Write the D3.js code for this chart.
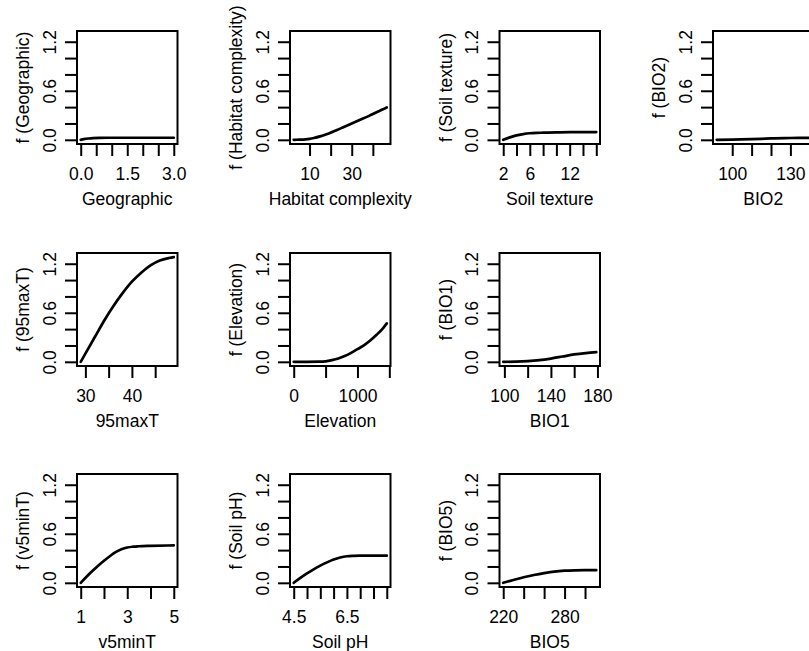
<!DOCTYPE html>
<html>
<head>
<meta charset="utf-8">
<script src="https://cdn.jsdelivr.net/npm/d3@7"></script>
<style>
  html, body { margin: 0; padding: 0; background: #fff; }
  svg { display: block; }
  text { font-family: "Liberation Sans", Arial, Helvetica, sans-serif; fill: #000; }
</style>
</head>
<body>
<svg id="chart" width="809" height="651"></svg>
<script>
// ---- data ----
const yTicks = [0, 0.2, 0.4, 0.6, 0.8, 1.0, 1.2];
const yTickLabels = [0, 0.6, 1.2];
const yLimit = [0, 1.28];

const geoX = [0, 0.1, 0.25, 0.4, 0.6, 0.9, 1.5, 2.0, 2.5, 3.0];
const geoY = [0, 0.008, 0.016, 0.021, 0.024, 0.025, 0.025, 0.025, 0.025, 0.025];
const geoTicks = [0, 0.5, 1.0, 1.5, 2.0, 2.5, 3.0];
const geoLabels = [0, 1.5, 3.0];

const habX = [2.5, 5, 8, 10, 12, 15, 18, 20, 23, 26, 30, 34, 38, 42, 46.6];
const habY = [0, 0.002, 0.006, 0.012, 0.022, 0.042, 0.068, 0.088, 0.12, 0.155, 0.2, 0.245, 0.29, 0.34, 0.395];
const habTicks = [10, 20, 30, 40];
const habLabels = [10, 30];

const soilTexX = [2, 3, 4, 5, 6, 7, 8, 10, 12, 14, 16];
const soilTexY = [0, 0.03, 0.055, 0.07, 0.08, 0.085, 0.087, 0.09, 0.093, 0.094, 0.095];
const soilTexTicks = [2, 4, 6, 8, 10, 12, 14, 16];
const soilTexLabels = [2, 6, 12];

const bio2X = [92, 100, 110, 115, 120, 130, 140];
const bio2Y = [0, 0.003, 0.008, 0.012, 0.018, 0.022, 0.025];
const bio2Ticks = [100, 110, 120, 130, 140];
const bio2Labels = [100, 130];

const maxTX = [29, 30, 32, 34, 36, 38, 40, 42, 44, 46, 48, 49];
const maxTY = [0, 0.1, 0.3, 0.5, 0.68, 0.84, 0.98, 1.09, 1.18, 1.24, 1.27, 1.28];
const maxTTicks = [30, 35, 40, 45];
const maxTLabels = [30, 40];

const elevX = [0, 200, 400, 500, 600, 700, 800, 900, 1000, 1100, 1200, 1300, 1400, 1460];
const elevY = [0, 0, 0.002, 0.006, 0.02, 0.04, 0.07, 0.11, 0.155, 0.2, 0.26, 0.33, 0.41, 0.47];
const elevTicks = [0, 500, 1000, 1500];
const elevLabels = [0, 1000];

const bio1X = [99, 110, 120, 130, 140, 150, 160, 170, 179];
const bio1Y = [0, 0.002, 0.008, 0.02, 0.04, 0.065, 0.09, 0.107, 0.118];
const bio1Ticks = [100, 120, 140, 160, 180];
const bio1Labels = [100, 140, 180];

const minTX = [1, 1.25, 1.5, 1.75, 2, 2.25, 2.5, 2.75, 3, 3.25, 3.5, 4, 5];
const minTY = [0, 0.075, 0.145, 0.21, 0.27, 0.325, 0.375, 0.41, 0.432, 0.442, 0.447, 0.452, 0.458];
const minTTicks = [1, 2, 3, 4, 5];
const minTLabels = [1, 3, 5];

const phX = [4.5, 4.75, 5, 5.25, 5.5, 5.75, 6, 6.25, 6.5, 6.75, 7, 8];
const phY = [0, 0.06, 0.115, 0.165, 0.21, 0.25, 0.285, 0.31, 0.325, 0.33, 0.332, 0.332];
const phTicks = [4.5, 5, 5.5, 6, 6.5, 7, 7.5, 8];
const phLabels = [4.5, 6.5];

const bio5X = [220, 230, 240, 250, 260, 270, 280, 290, 300, 311];
const bio5Y = [0, 0.035, 0.068, 0.095, 0.118, 0.137, 0.148, 0.153, 0.155, 0.155];
const bio5Ticks = [220, 240, 260, 280, 300];
const bio5Labels = [220, 280];

const panelNames = ["Geographic", "Habitat complexity", "Soil texture", "BIO2",
                    "95maxT", "Elevation", "BIO1", "v5minT", "Soil pH", "BIO5"];

// ---- layout ----
const colLeft = [77, 290, 499.5, 713];
const rowTop = [31, 253, 474];
const boxW = 100.5, boxH = 113;

const panels = [
  {name: panelNames[0], x: geoX, y: geoY, ticks: geoTicks, labels: geoLabels, fmt: d3.format(".1f"), r: 0, c: 0},
  {name: panelNames[1], x: habX, y: habY, ticks: habTicks, labels: habLabels, fmt: d3.format("d"), r: 0, c: 1},
  {name: panelNames[2], x: soilTexX, y: soilTexY, ticks: soilTexTicks, labels: soilTexLabels, fmt: d3.format("d"), r: 0, c: 2},
  {name: panelNames[3], x: bio2X, y: bio2Y, ticks: bio2Ticks, labels: bio2Labels, fmt: d3.format("d"), r: 0, c: 3},
  {name: panelNames[4], x: maxTX, y: maxTY, ticks: maxTTicks, labels: maxTLabels, fmt: d3.format("d"), r: 1, c: 0},
  {name: panelNames[5], x: elevX, y: elevY, ticks: elevTicks, labels: elevLabels, fmt: d3.format("d"), r: 1, c: 1},
  {name: panelNames[6], x: bio1X, y: bio1Y, ticks: bio1Ticks, labels: bio1Labels, fmt: d3.format("d"), r: 1, c: 2},
  {name: panelNames[7], x: minTX, y: minTY, ticks: minTTicks, labels: minTLabels, fmt: d3.format("d"), r: 2, c: 0},
  {name: panelNames[8], x: phX, y: phY, ticks: phTicks, labels: phLabels, fmt: d3.format(".1f"), r: 2, c: 1},
  {name: panelNames[9], x: bio5X, y: bio5Y, ticks: bio5Ticks, labels: bio5Labels, fmt: d3.format("d"), r: 2, c: 2}
];

const svg = d3.select("#chart");
const FS = "17.5px";

function pad(ext) {
  const p = (ext[1] - ext[0]) * 0.04;
  return [ext[0] - p, ext[1] + p];
}

panels.forEach(p => {
  const left = colLeft[p.c], top = rowTop[p.r];
  const x = d3.scaleLinear().domain(pad(d3.extent(p.x))).range([left, left + boxW]);
  const y = d3.scaleLinear().domain(pad(yLimit)).range([top + boxH, top]);
  const g = svg.append("g");

  // x axis
  const xa = g.append("g").attr("transform", `translate(0,${top + boxH})`)
    .call(d3.axisBottom(x).tickValues(p.ticks).tickSize(12).tickSizeOuter(0)
      .tickFormat(d => p.labels.some(v => Math.abs(v - d) < 1e-9) ? p.fmt(d) : ""));
  xa.select(".domain").remove();
  xa.attr("font-family", null).attr("font-size", null);
  xa.selectAll(".tick line").attr("stroke", "#000").attr("stroke-width", 2);
  xa.selectAll(".tick text").attr("y", 36).attr("dy", null)
    .style("font-size", FS).attr("fill", "#000");

  // y axis
  const ya = g.append("g").attr("transform", `translate(${left},0)`)
    .call(d3.axisLeft(y).tickValues(yTicks).tickSize(12).tickSizeOuter(0)
      .tickFormat(d => yTickLabels.some(v => Math.abs(v - d) < 1e-9) ? d3.format(".1f")(d) : ""));
  ya.select(".domain").remove();
  ya.attr("font-family", null).attr("font-size", null);
  ya.selectAll(".tick line").attr("stroke", "#000").attr("stroke-width", 2);
  ya.selectAll(".tick text").attr("x", null).attr("dy", null)
    .attr("text-anchor", "middle")
    .attr("transform", "translate(-21.5,0) rotate(-90)")
    .style("font-size", FS).attr("fill", "#000");

  // curve
  const pts = p.x.map((v, i) => [v, p.y[i]]);
  g.append("path").datum(pts)
    .attr("d", d3.line().x(d => x(d[0])).y(d => y(d[1])).curve(d3.curveMonotoneX))
    .attr("fill", "none").attr("stroke", "#000").attr("stroke-width", 2.7)
    .attr("stroke-linejoin", "round").attr("stroke-linecap", "round");

  // box
  g.append("rect").attr("x", left).attr("y", top).attr("width", boxW).attr("height", boxH)
    .attr("fill", "none").attr("stroke", "#000").attr("stroke-width", 2);

  // labels
  g.append("text").attr("x", left + boxW / 2).attr("y", top + boxH + 60.5)
    .attr("text-anchor", "middle").style("font-size", FS).text(p.name);
  g.append("text")
    .attr("transform", `translate(${left - 48},${top + boxH / 2}) rotate(-90)`)
    .attr("text-anchor", "middle").style("font-size", FS).text(`f (${p.name})`);
});
</script>
</body>
</html>
